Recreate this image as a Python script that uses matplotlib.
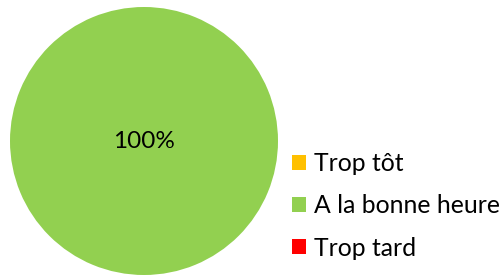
import matplotlib
matplotlib.use("Agg")
import matplotlib.pyplot as plt
from matplotlib.patches import Patch

categories = ["Trop tôt", "A la bonne heure", "Trop tard"]
values = [0, 100, 0]
colors = ["#FFC000", "#92D050", "#FF0000"]

plt.rcParams['font.family'] = ['Lato', 'DejaVu Sans']

fig = plt.figure(figsize=(5.02, 2.76), dpi=100)
ax = fig.add_axes([10/502, 1/276, 268/502, 268/276])

def fmt(p):
    return f"{p:.0f}%" if p > 0 else ""

wedges, texts, autotexts = ax.pie(values, colors=colors, startangle=90, counterclock=False,
                                  autopct=fmt, pctdistance=0.0,
                                  textprops=dict(fontsize=17.5, color="black"))
ax.set_aspect('equal')
ax.set_xlim(-1, 1)
ax.set_ylim(-1, 1)

handles = [Patch(facecolor=c, edgecolor='none') for c in colors]
fig.legend(handles, categories, loc='upper left', bbox_to_anchor=(292/502, 1 - 152/276),
           frameon=False, fontsize=17.8, handlelength=0.55, handleheight=0.55,
           handletextpad=0.35, labelspacing=0.78, borderpad=0, borderaxespad=0)

fig.savefig("out.png", dpi=100)
